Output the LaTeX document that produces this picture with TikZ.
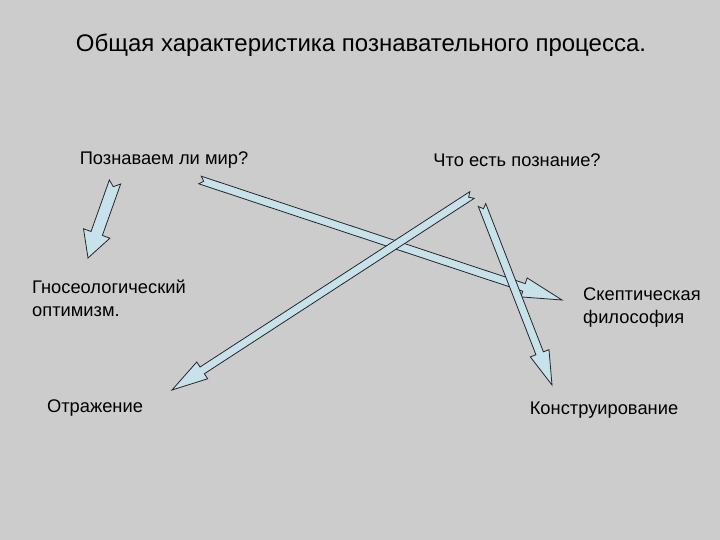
\documentclass[tikz,border=0pt]{standalone}
\usepackage{fontspec}
\setmainfont{Liberation Sans}
\usetikzlibrary{calc}
\definecolor{bg}{RGB}{204,204,204}
\definecolor{arrfill}{RGB}{200,226,236}
\tikzset{arr/.style={draw=black!85,fill=arrfill,line width=0.8pt,line join=miter},
  lbl/.style={font=\fontsize{18.3}{23}\selectfont,align=left,inner sep=0pt}}
% #1 tail, #2 tip, #3 shaft half width, #4 head half width, #5 head length, #6 notch
\newcommand\blarr[6]{%
  \draw[arr] let \p1=($(#2)-(#1)$), \n1={veclen(\x1,\y1)} in
    ($(#1)!#3!90:(#2)$) -- ($($(#1)!\n1-#5!(#2)$)!#3!90:(#2)$)
    -- ($($(#1)!\n1-#5!(#2)$)!#4!90:(#2)$) -- (#2)
    -- ($($(#1)!\n1-#5!(#2)$)!#4!-90:(#2)$) -- ($($(#1)!\n1-#5!(#2)$)!#3!-90:(#2)$)
    -- ($(#1)!#3!-90:(#2)$) -- ($(#1)!#6!(#2)$) -- cycle;}
\begin{document}
\begin{tikzpicture}[x=1pt,y=-1pt]
\fill[bg] (0,0) rectangle (720,540);
\useasboundingbox (0,0) rectangle (720,540);
\node[lbl,font=\fontsize{24}{28}\selectfont] (title) at (361,45) {Общая характеристика познавательного процесса.};
\node[lbl] (q1) at (164,160) {Познаваем ли мир?};
\node[lbl] (q2) at (517,160) {Что есть познание?};
\node[lbl,anchor=west] (gno) at (32,298) {Гносеологический\\оптимизм.};
\node[lbl,anchor=west] (skep) at (583,308) {Скептическая\\философия};
\node[lbl] (otr) at (95,408) {Отражение};
\node[lbl] (kon) at (604,410) {Конструирование};
\coordinate (a1) at (115,182); \coordinate (b1) at (88,258);
\coordinate (a2) at (200,180); \coordinate (b2) at (562,300);
\coordinate (a3) at (472,195); \coordinate (b3) at (172,390);
\coordinate (a4) at (482,205); \coordinate (b4) at (552,385);
\blarr{a1}{b1}{6pt}{14pt}{26pt}{5pt}
\blarr{a2}{b2}{4pt}{10pt}{40pt}{4pt}
\blarr{a3}{b3}{4pt}{10pt}{36pt}{4pt}
\blarr{a4}{b4}{4pt}{10pt}{34pt}{4pt}
\end{tikzpicture}
\end{document}
